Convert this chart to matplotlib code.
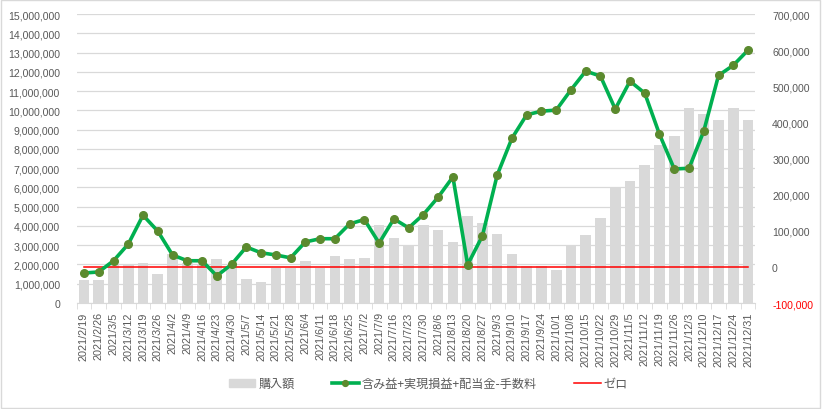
import matplotlib
matplotlib.use("Agg")
import matplotlib.pyplot as plt
import matplotlib.ticker as mticker
from matplotlib.patches import Rectangle
from matplotlib.lines import Line2D
import numpy as np

dates = ["2021/2/19", "2021/2/26", "2021/3/5", "2021/3/12", "2021/3/19", "2021/3/26",
         "2021/4/2", "2021/4/9", "2021/4/16", "2021/4/23", "2021/4/30", "2021/5/7",
         "2021/5/14", "2021/5/21", "2021/5/28", "2021/6/4", "2021/6/11", "2021/6/18",
         "2021/6/25", "2021/7/2", "2021/7/9", "2021/7/16", "2021/7/23", "2021/7/30",
         "2021/8/6", "2021/8/13", "2021/8/20", "2021/8/27", "2021/9/3", "2021/9/10",
         "2021/9/17", "2021/9/24", "2021/10/1", "2021/10/8", "2021/10/15", "2021/10/22",
         "2021/10/29", "2021/11/5", "2021/11/12", "2021/11/19", "2021/11/26", "2021/12/3",
         "2021/12/10", "2021/12/17", "2021/12/24", "2021/12/31"]

purchase = [1190000, 1190000, 2000000, 2020000, 2080000, 1500000, 2540000, 2100000,
            2000000, 2280000, 1940000, 1250000, 1070000, 1800000, 1800000, 2180000,
            1800000, 2440000, 2280000, 2340000, 4050000, 3370000, 3010000, 4050000,
            3790000, 3150000, 4500000, 4130000, 3560000, 2530000, 1940000, 1940000,
            1710000, 2940000, 3510000, 4390000, 6000000, 6310000, 7150000, 8200000,
            8650000, 10100000, 9790000, 9480000, 10100000, 9480000]

profit = [-17000, -14000, 17000, 63000, 143000, 99000, 33000, 17000, 17000, -25000,
          7000, 55000, 39000, 33000, 25000, 69000, 78000, 78000, 119000, 131000,
          66000, 133000, 108000, 145000, 193000, 249000, 6000, 86000, 254000, 356000,
          421000, 431000, 434000, 490000, 542000, 528000, 437000, 514000, 481000,
          367000, 271000, 273000, 376000, 530000, 558000, 600000]

zero = [0] * len(dates)

labels_legend = ["購入額", "含み益+実現損益+配当金-手数料", "ゼロ"]

plt.rcParams['font.family'] = ['Liberation Sans', 'Noto Sans CJK JP', 'DejaVu Sans']
txt = "#595959"

fig = plt.figure(figsize=(8.22, 4.10), dpi=100)
fig.patches.append(Rectangle((0.001, 0.002), 0.997, 0.995, transform=fig.transFigure,
                             fill=False, edgecolor="#D9D9D9", linewidth=1))
ax = fig.add_axes([0.0932, 0.2585, 0.8258, 0.7049])
ax2 = ax.twinx()

x = np.arange(len(dates))
ax.bar(x, purchase, width=0.72, color="#D9D9D9", zorder=2)
ax.set_ylim(0, 15000000)
ax.set_xlim(-0.5, len(dates) - 0.5)
ax.set_yticks(np.arange(0, 15000001, 1000000))
ax.yaxis.set_major_formatter(mticker.FuncFormatter(lambda v, p: f"{int(v):,}"))
ax.grid(axis="y", color="#D9D9D9", linewidth=0.9, zorder=0)
ax.set_axisbelow(True)

ax2.plot(x, zero, color="#FF0000", linewidth=1.1, zorder=3)
ax2.plot(x, profit, color="#00B050", linewidth=2.6, marker="o", markersize=5.5,
         markerfacecolor="#5B8A2E", markeredgecolor="#5B8A2E", zorder=4)
ax2.set_ylim(-100000, 700000)
ax2.set_yticks(np.arange(-100000, 700001, 100000))
ax2.yaxis.set_major_formatter(mticker.FuncFormatter(lambda v, p: f"{int(round(v)):,}"))

for a in (ax, ax2):
    for s in a.spines.values():
        s.set_visible(False)
ax.spines["bottom"].set_visible(True)
ax.spines["bottom"].set_color("#D9D9D9")

ax.set_xticks(x)
ax.set_xticklabels(dates, rotation=90, fontsize=7.8, color=txt)
ax.set_xticks(np.arange(-0.5, len(dates), 1), minor=True)
ax.tick_params(axis="x", which="major", length=0, pad=6)
ax.tick_params(axis="x", which="minor", length=4, color="#D9D9D9")
ax.tick_params(axis="y", length=0, labelsize=7.6, labelcolor=txt, pad=12)
ax2.tick_params(axis="y", length=0, labelsize=7.6, labelcolor=txt, pad=12)
fig.canvas.draw()
for t, lab in zip(ax2.get_yticks(), ax2.get_yticklabels()):
    if t < 0:
        lab.set_color("#FF0000")

handles = [Rectangle((0, 0), 1, 1, color="#D9D9D9"),
           Line2D([], [], color="#00B050", linewidth=2.6, marker="o", markersize=4.2,
                  markerfacecolor="#5B8A2E", markeredgecolor="#5B8A2E"),
           Line2D([], [], color="#FF0000", linewidth=1.1)]
leg = fig.legend(handles, labels_legend, loc="center", bbox_to_anchor=(0.521, 0.062),
                 ncol=3, frameon=False, columnspacing=3.1, handlelength=2.2,
                 handleheight=0.6, handletextpad=0.25,
                 prop={"family": ["Noto Sans CJK JP"], "size": 8.7})
for t in leg.get_texts():
    t.set_color(txt)

fig.savefig("out.png", dpi=100)
